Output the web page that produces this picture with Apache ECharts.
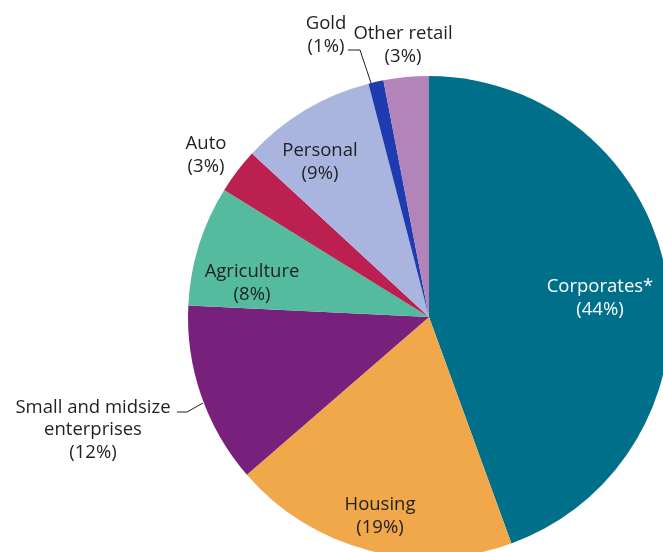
<!DOCTYPE html>
<html>
<head>
<meta charset="utf-8">
<script src="https://cdn.jsdelivr.net/npm/echarts@6/dist/echarts.min.js"></script>
<style>
  html, body { margin: 0; padding: 0; background: #ffffff; }
  #chart { width: 663px; height: 552px; }
</style>
</head>
<body>
<div id="chart"></div>
<script>
// Loan book composition by segment (share of total, %)
const categories = ['Corporates*', 'Housing', 'Small and midsize\nenterprises', 'Agriculture', 'Auto', 'Personal', 'Gold', 'Other retail'];
const shares = [44, 19, 12, 8, 3, 9, 1, 3];
const colors = ['#006f8a', '#f1a84b', '#77217d', '#55bb9f', '#bb2051', '#a9b5df', '#1e3caf', '#b384ba'];

// Label anchor points (centre of each text block) and leader lines
const labelSpots = [
  { x: 600, y: 298 },
  { x: 380, y: 516 },
  { x: 93, y: 430 },
  { x: 252, y: 283 },
  { x: 206, y: 155 },
  { x: 320, y: 162 },
  { x: 326, y: 35 },
  { x: 403, y: 45 }
];
const leaderLines = {
  2: [[177, 412], [187, 412], [203, 403]],
  6: [[348, 50], [360, 50], [371, 83]]
};

const chart = echarts.init(document.getElementById('chart'), null, { renderer: 'canvas' });

const data = categories.map((name, i) => ({
  name: name,
  value: shares[i],
  itemStyle: { color: colors[i] },
  label: { color: i === 0 ? '#ffffff' : '#1f1f1f' },
  labelLine: { show: !!leaderLines[i] }
}));

chart.setOption({
  animation: false,
  series: [{
    type: 'pie',
    center: [429, 317],
    radius: [0, 241],
    startAngle: 90,
    clockwise: true,
    avoidLabelOverlap: false,
    itemStyle: { borderWidth: 0 },
    label: {
      show: true,
      position: 'outside',
      formatter: p => p.name + '\n(' + p.value + '%)',
      fontFamily: '"Open Sans", sans-serif',
      fontSize: 18.5,
      lineHeight: 22.5,
      align: 'center'
    },
    labelLine: {
      show: true,
      lineStyle: { color: '#1f1f1f', width: 1 }
    },
    labelLayout: params => {
      const spot = labelSpots[params.dataIndex];
      const out = {
        x: spot.x,
        y: spot.y,
        align: 'center',
        verticalAlign: 'middle'
      };
      if (leaderLines[params.dataIndex]) {
        out.labelLinePoints = leaderLines[params.dataIndex];
      }
      return out;
    },
    data: data
  }]
});
</script>
</body>
</html>
